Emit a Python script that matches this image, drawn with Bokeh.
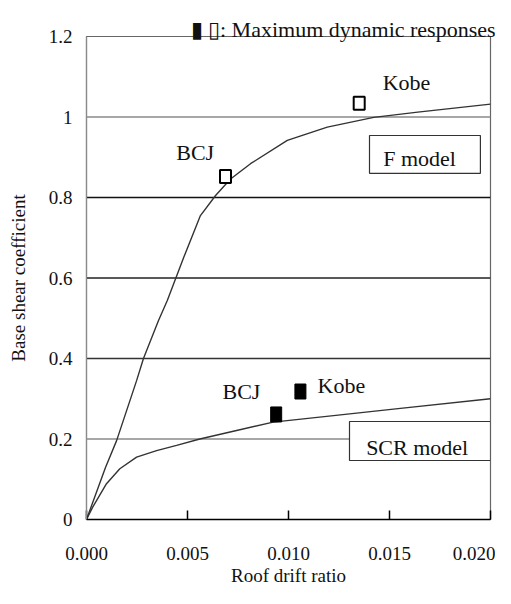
from bokeh.plotting import figure
from bokeh.models import Range1d, FixedTicker, Span, Title
from bokeh.core.properties import value
from bokeh.embed import file_html
from bokeh.resources import INLINE

# ---- data ----
f_drift = [0.0, 0.00094, 0.00149, 0.00248, 0.00282, 0.00356, 0.0040, 0.00482,
           0.00564, 0.00639, 0.00713, 0.00812, 0.00994, 0.01192, 0.01422,
           0.0164, 0.020]
f_shear = [0.0, 0.129, 0.196, 0.345, 0.400, 0.494, 0.544, 0.652,
           0.755, 0.805, 0.846, 0.884, 0.942, 0.975, 0.999,
           1.012, 1.032]

scr_drift = [0.0, 0.0003, 0.00099, 0.00165, 0.00248, 0.00347, 0.00446, 0.00561,
             0.00743, 0.00924, 0.01223, 0.01554, 0.020]
scr_shear = [0.0, 0.030, 0.089, 0.126, 0.155, 0.171, 0.184, 0.200,
             0.221, 0.242, 0.258, 0.276, 0.300]

f_resp_names = ["BCJ", "Kobe"]
f_resp_drift = [0.00688, 0.0135]
f_resp_shear = [0.852, 1.034]

scr_resp_names = ["BCJ", "Kobe"]
scr_resp_drift = [0.00939, 0.01059]
scr_resp_shear = [0.261, 0.318]

x_ticks = [0.0, 0.005, 0.010, 0.015, 0.020]
x_tick_labels = ["0.000", "0.005", "0.010", "0.015", "0.020"]
y_ticks = [0.0, 0.2, 0.4, 0.6, 0.8, 1.0, 1.2]
y_tick_labels = ["0", "0.2", "0.4", "0.6", "0.8", "1", "1.2"]
grid_levels = [0.2, 0.4, 0.6, 0.8, 1.0]
grid_colors = ["#8a8a8a", "#333333", "#222222", "#111111", "#8a8a8a"]

SERIF = "Liberation Serif"
TXT = "#111111"

p = figure(width=495, height=588, output_backend="svg", toolbar_location=None,
           x_range=Range1d(0, 0.020), y_range=Range1d(0, 1.2),
           min_border_left=86, min_border_right=5, min_border_top=36,
           min_border_bottom=69)
p.background_fill_color = "white"
p.border_fill_color = "white"
p.outline_line_color = "#666666"
p.outline_line_width = 1.2

# axes
p.xaxis.ticker = FixedTicker(ticks=x_ticks)
p.xaxis.major_label_overrides = dict(zip(x_ticks, x_tick_labels))
p.yaxis.ticker = FixedTicker(ticks=y_ticks)
p.yaxis.major_label_overrides = dict(zip(y_ticks, y_tick_labels))
for ax in (p.xaxis, p.yaxis):
    ax.minor_tick_line_color = None
    ax.major_label_text_font = SERIF
    ax.major_label_text_font_size = "19px"
    ax.major_label_text_color = TXT
    ax.axis_label_text_font = SERIF
    ax.axis_label_text_font_size = "19px"
    ax.axis_label_text_font_style = "normal"
    ax.axis_label_text_color = TXT
p.xaxis.axis_line_color = "black"
p.xaxis.axis_line_width = 1.6
p.xaxis.major_tick_in = 9
p.xaxis.major_tick_out = 0
p.xaxis.major_tick_line_color = "black"
p.xaxis.major_tick_line_width = 1.5
p.xaxis.major_label_standoff = 27
p.xaxis.axis_label = "Roof drift ratio"
p.xaxis.axis_label_standoff = 2
p.yaxis.axis_line_color = "#8a8a8a"
p.yaxis.axis_line_width = 1.2
p.yaxis.major_tick_in = 0
p.yaxis.major_tick_out = 0
p.yaxis.major_label_standoff = 14
p.yaxis.axis_label = "Base shear coefficient"
p.yaxis.axis_label_standoff = 17

p.xgrid.grid_line_color = None
p.ygrid.grid_line_color = None
for lvl, col in zip(grid_levels, grid_colors):
    p.add_layout(Span(location=lvl, dimension="width", line_color=col,
                      line_width=1.4, level="underlay"))

# model boxes
p.quad(left=0.01401, right=0.01950, top=0.954, bottom=0.860,
       fill_color="white", line_color="#333333", line_width=1.2)
p.quad(left=0.01302, right=0.0200, top=0.2435, bottom=0.1466,
       fill_color="white", line_color="#333333", line_width=1.2)
p.text(x=[0.01649], y=[0.897], text=["F model"], text_font=value(SERIF),
       text_font_size="22px", text_align="center", text_baseline="middle",
       text_color=TXT)
p.text(x=[0.01637], y=[0.178], text=["SCR model"], text_font=value(SERIF),
       text_font_size="22px", text_align="center", text_baseline="middle",
       text_color=TXT)

# curves
p.line(f_drift, f_shear, line_color="#333333", line_width=1.4)
p.line(scr_drift, scr_shear, line_color="#333333", line_width=1.4)

# response markers
p.rect(f_resp_drift, f_resp_shear, width=11, height=13, width_units="screen",
       height_units="screen", fill_color="white", line_color="black", line_width=2)
p.rect(scr_resp_drift, scr_resp_shear, width=11, height=15, width_units="screen",
       height_units="screen", fill_color="black", line_color="black", line_width=1)

# marker labels
p.text(x=[0.00538, 0.01584], y=[0.912, 1.085], text=f_resp_names,
       text_font=value(SERIF), text_font_size="22px", text_align="center",
       text_baseline="middle", text_color=TXT)
p.text(x=[0.00767, 0.01262], y=[0.318, 0.332], text=scr_resp_names,
       text_font=value(SERIF), text_font_size="22px", text_align="center",
       text_baseline="middle", text_color=TXT)

# legend note above the frame
note = Title(text="\u25ae \u25af: Maximum dynamic responses", align="left",
             offset=104, standoff=-10, text_font=SERIF, text_font_size="22px",
             text_font_style="normal", text_color=TXT)
p.add_layout(note, "above")

open("out.html", "w").write(file_html(p, INLINE))
